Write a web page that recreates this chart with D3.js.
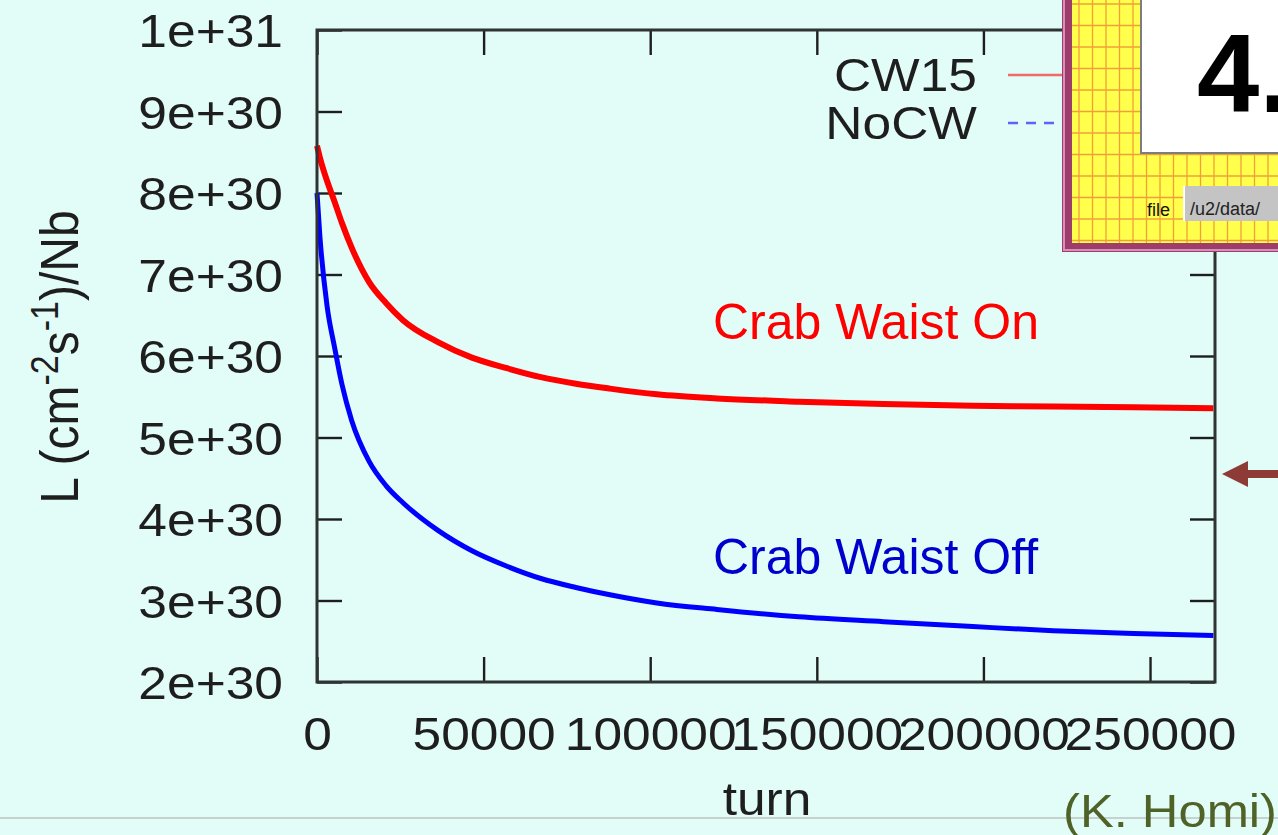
<!DOCTYPE html>
<html>
<head>
<meta charset="utf-8">
<script src="https://cdn.jsdelivr.net/npm/d3@7/dist/d3.min.js"></script>
<style>
html, body { margin: 0; padding: 0; background: #e2fdf8; overflow: hidden; }
svg { display: block; font-family: 'Liberation Sans', Arial, sans-serif; }
</style>
</head>
<body>
<script>
// luminosity per bunch, in units of 1e30 cm^-2 s^-1
const turns = [0, 900, 3000, 5300, 7500, 10400, 15600, 20700, 25800, 36300, 46500, 57000,
               67200, 77700, 87900, 102000, 120000, 144600, 170000, 196800, 221000, 245000, 269000];
const cw15 = [8.58, 8.43, 8.15, 7.89, 7.63, 7.33, 6.91, 6.65, 6.44, 6.17, 5.98, 5.85,
              5.74, 5.66, 5.60, 5.53, 5.48, 5.44, 5.41, 5.39, 5.38, 5.37, 5.36];
const noCw = [8.0, 7.45, 6.62, 6.1, 5.65, 5.21, 4.71, 4.41, 4.20, 3.86, 3.61, 3.42,
              3.27, 3.16, 3.07, 2.97, 2.89, 2.80, 2.74, 2.68, 2.63, 2.595, 2.57];
const seriesNames = ['CW15', 'NoCW'];
const xTicks = [0, 50000, 100000, 150000, 200000, 250000];
const yTicks = [2, 3, 4, 5, 6, 7, 8, 9, 10];
const yTickLabels = ['2e+30', '3e+30', '4e+30', '5e+30', '6e+30', '7e+30', '8e+30', '9e+30', '1e+31'];

const W = 1278, H = 835;
const plot = {left: 317, right: 1215, top: 30, bottom: 682};
// the gnuplot picture is a bit stretched sideways on the slide
const SX = 1.12;
const fontSize = 46;
const ink = '#1e1e1e';

const svg = d3.select('body').append('svg')
    .attr('width', W)
    .attr('height', H);
svg.append('rect')
    .attr('width', W)
    .attr('height', H)
    .attr('fill', '#e2fdf8');

const x = d3.scaleLinear().domain([0, 269500]).range([plot.left, plot.right]);
const y = d3.scaleLinear().domain([2, 10]).range([plot.bottom, plot.top]);

// axes with gnuplot style inward ticks, mirrored on top and right
const styleTicks = (g) => {
    g.select('.domain').remove();
    g.selectAll('.tick line').attr('stroke', ink).attr('stroke-width', 2.4);
    g.selectAll('.tick text')
        .attr('fill', ink)
        .attr('font-size', fontSize)
        .attr('font-family', null);
};
svg.append('g')
    .attr('transform', `translate(0,${plot.bottom})`)
    .call(d3.axisBottom(x).tickValues(xTicks).tickSize(-25).tickFormat(d3.format('d')))
    .call(styleTicks)
    .call(g => g.selectAll('.tick text')
        .attr('y', 68)
        .attr('dy', 0)
        .attr('transform', `scale(${SX},1)`));
svg.append('g')
    .attr('transform', `translate(${plot.left},0)`)
    .call(d3.axisLeft(y).tickValues(yTicks).tickSize(-25).tickFormat((d, i) => yTickLabels[i]))
    .call(styleTicks)
    .call(g => g.selectAll('.tick text')
        .attr('x', -34 / SX)
        .attr('dy', '0.36em')
        .attr('transform', `scale(${SX},1)`));
svg.append('g')
    .attr('transform', `translate(0,${plot.top})`)
    .call(d3.axisTop(x).tickValues(xTicks).tickSize(-25).tickFormat(''))
    .call(styleTicks);
svg.append('g')
    .attr('transform', `translate(${plot.right},0)`)
    .call(d3.axisRight(y).tickValues(yTicks).tickSize(-25).tickFormat(''))
    .call(styleTicks);

// curves
const line = d3.line()
    .x((d, i) => x(turns[i]))
    .y(d => y(d))
    .curve(d3.curveMonotoneX);
svg.append('path')
    .datum(noCw)
    .attr('d', line)
    .attr('fill', 'none')
    .attr('stroke', '#0000ff')
    .attr('stroke-width', 5);
svg.append('path')
    .datum(cw15)
    .attr('d', line)
    .attr('fill', 'none')
    .attr('stroke', '#ff0000')
    .attr('stroke-width', 6);

// plot border
svg.append('rect')
    .attr('x', plot.left)
    .attr('y', plot.top)
    .attr('width', plot.right - plot.left)
    .attr('height', plot.bottom - plot.top)
    .attr('fill', 'none')
    .attr('stroke', '#2f3331')
    .attr('stroke-width', 3);

// stretched gnuplot text helper
const gtext = (tx, ty, str, anchor, rotate) => svg.append('text')
    .attr('transform', `translate(${tx},${ty}) scale(${SX},1)${rotate ? ' rotate(-90)' : ''}`)
    .attr('text-anchor', anchor)
    .attr('font-size', fontSize)
    .attr('fill', ink)
    .text(str);

gtext(767, 815, 'turn', 'middle');
const ylab = gtext(78, 357, '', 'middle', true).attr('font-size', 48);
ylab.append('tspan').text('L (cm');
ylab.append('tspan').attr('dy', -18).attr('font-size', 34).text('-2');
ylab.append('tspan').attr('dy', 18).text('s');
ylab.append('tspan').attr('dy', -18).attr('font-size', 34).text('-1');
ylab.append('tspan').attr('dy', 18).text(')/Nb');

// legend
gtext(977, 91, seriesNames[0], 'end');
gtext(977, 139, seriesNames[1], 'end');
svg.append('line')
    .attr('x1', 1008).attr('x2', 1070)
    .attr('y1', 75).attr('y2', 75)
    .attr('stroke', '#f06a6a')
    .attr('stroke-width', 2.5);
svg.append('line')
    .attr('x1', 1008).attr('x2', 1070)
    .attr('y1', 123).attr('y2', 123)
    .attr('stroke', '#6060ff')
    .attr('stroke-width', 2.5)
    .attr('stroke-dasharray', '10,8');

// annotations
svg.append('text')
    .attr('x', 713).attr('y', 339)
    .attr('font-size', 50)
    .attr('fill', '#ff0000')
    .text('Crab Waist On');
svg.append('text')
    .attr('x', 713).attr('y', 574)
    .attr('font-size', 50)
    .attr('fill', '#0000cc')
    .text('Crab Waist Off');

// arrow pointing at the right axis
svg.append('path')
    .attr('d', 'M1222,474 L1248,461 L1248,470 L1290,470 L1290,478 L1248,478 L1248,487 Z')
    .attr('fill', '#8e3a36');

// overlapping window in the top right corner
const win = svg.append('g');
win.append('rect')
    .attr('x', 1062).attr('y', -10)
    .attr('width', 240).attr('height', 262)
    .attr('fill', '#9c3d6b');
win.append('path')
    .attr('d', 'M1064,-10 V250 H1290')
    .attr('fill', 'none')
    .attr('stroke', '#d990b8')
    .attr('stroke-width', 2);
win.append('rect')
    .attr('x', 1072).attr('y', -10)
    .attr('width', 230).attr('height', 253)
    .attr('fill', '#ffff4c');
win.append('clipPath')
    .attr('id', 'win-clip')
    .append('rect')
    .attr('x', 1072).attr('y', -10)
    .attr('width', 230).attr('height', 253);
const grid = win.append('g')
    .attr('clip-path', 'url(#win-clip)')
    .attr('stroke', '#f0a03a')
    .attr('stroke-width', 1.3);
grid.selectAll('.gv')
    .data(d3.range(1079, 1290, 13.5))
    .enter()
    .append('line')
    .attr('x1', d => d).attr('x2', d => d)
    .attr('y1', -10).attr('y2', 243);
grid.selectAll('.gh')
    .data(d3.range(4, 243, 21.5))
    .enter()
    .append('line')
    .attr('x1', 1072).attr('x2', 1290)
    .attr('y1', d => d).attr('y2', d => d);
win.append('rect')
    .attr('x', 1140).attr('y', -10)
    .attr('width', 150).attr('height', 163)
    .attr('fill', '#ffffff');
win.append('path')
    .attr('d', 'M1141,-10 V153 H1290')
    .attr('fill', 'none')
    .attr('stroke', '#7d7d7d')
    .attr('stroke-width', 2);
win.append('text')
    .attr('x', 1197).attr('y', 112)
    .attr('font-size', 112)
    .attr('font-weight', 'bold')
    .attr('fill', '#000')
    .text('4.');
win.append('text')
    .attr('x', 1147).attr('y', 216)
    .attr('font-size', 18)
    .attr('fill', '#111')
    .text('file');
win.append('rect')
    .attr('x', 1183).attr('y', 186)
    .attr('width', 110).attr('height', 35)
    .attr('fill', '#c4c4c4');
win.append('line')
    .attr('x1', 1184).attr('x2', 1184)
    .attr('y1', 186).attr('y2', 221)
    .attr('stroke', '#ffffff')
    .attr('stroke-width', 2);
win.append('text')
    .attr('x', 1190).attr('y', 215)
    .attr('font-size', 18)
    .attr('fill', '#222')
    .text('/u2/data/');

// slide footer
svg.append('line')
    .attr('x1', 0).attr('x2', W)
    .attr('y1', 818).attr('y2', 818)
    .attr('stroke', '#c6d2ce')
    .attr('stroke-width', 2);
svg.append('text')
    .attr('x', 1063).attr('y', 827)
    .attr('font-size', 46)
    .attr('textLength', 214)
    .attr('lengthAdjust', 'spacingAndGlyphs')
    .attr('fill', '#4f6228')
    .text('(K. Homi)');
</script>
</body>
</html>
